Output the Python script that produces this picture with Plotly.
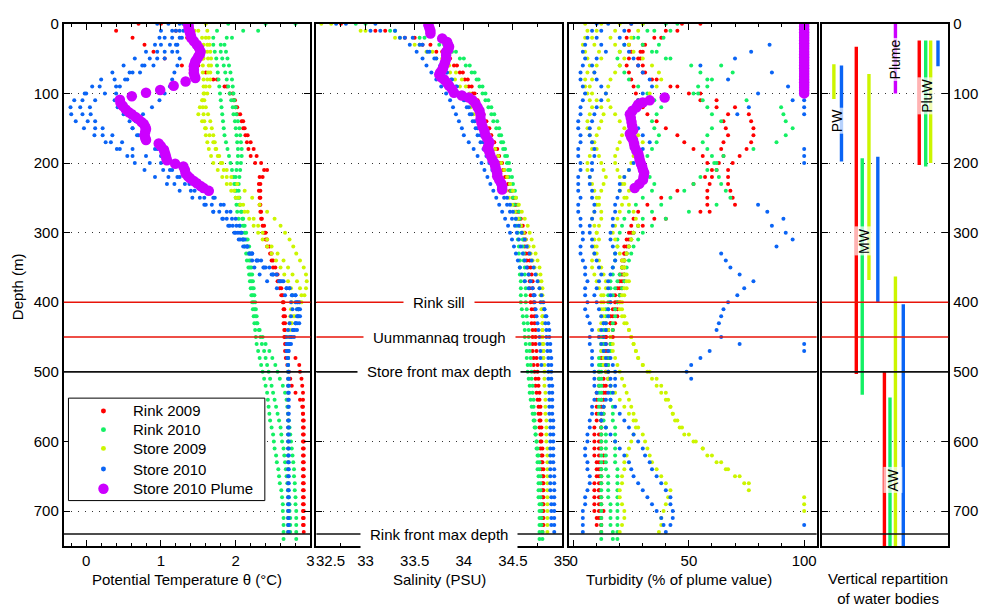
import plotly.graph_objects as go

N = None
FONT = "Liberation Sans, Arial, Helvetica, sans-serif"

# ---------------- depth levels of the CTD casts (m) ----------------
depth_m = list(range(0, 750, 10))  # 0, 10, ..., 740

# ---------------- Potential temperature (deg C) ----------------
T_R09_a = [0.70,0.40,0.62,0.78,0.90,1.05,1.28,1.40,1.70,1.88,
           1.96,1.99,2.00,2.02,2.08,2.10,2.13,2.15,2.17,2.20,
           2.26,2.38,2.32,2.33,2.33,2.33,2.33,2.34,2.34,2.36,
           2.38,2.40,2.42,2.46,2.48,2.50,2.54,2.56,2.59,2.61,
           2.64,2.65,2.66,2.66,2.66,2.66,2.67,2.70,2.80,2.85,
           2.86,2.88,2.89,2.90,2.90,2.90,2.90,2.90,2.90,2.90,
           2.90,2.90,2.90,2.90,2.90,2.90,2.90,2.90,2.90,2.90,
           2.90,2.90,2.90,N,N]
T_R09_b = [1.00,1.20,1.35,1.45,1.50,1.55,1.50,1.60,1.75,1.85,
           1.92,1.97,2.02,2.06,2.10,2.12,2.16,2.20,2.24,2.28,
           2.34,2.42,2.36,2.31,2.31,2.32,2.32,2.33,2.35,2.38,
           2.40,2.42,2.45,2.48,2.50,2.53,2.56,2.58,2.61,2.63,
           2.63,2.64,2.64,2.64,2.65,2.65,2.66,2.66,2.67,2.69,
           2.71,2.73,2.75,2.80,2.86,2.89,2.90,2.91,2.91,2.91,
           2.91,2.91,2.91,2.91,2.91,2.91,2.91,2.91,2.91,2.91,
           2.91,2.91,2.91,2.91,N]
T_R10_a = [1.90,1.75,1.70,1.70,1.72,1.74,1.75,1.76,1.77,1.78,
           1.79,1.80,1.81,1.82,1.83,1.84,1.85,1.87,1.89,1.91,
           1.93,1.95,1.97,1.98,1.99,2.00,2.01,2.02,2.04,2.06,
           2.08,2.10,2.12,2.14,2.15,2.17,2.18,2.19,2.20,2.21,
           2.22,2.23,2.24,2.25,2.26,2.27,2.28,2.30,2.32,2.34,
           2.36,2.38,2.40,2.42,2.43,2.44,2.45,2.46,2.48,2.50,
           2.51,2.52,2.54,2.55,2.57,2.58,2.59,2.61,2.62,2.63,
           2.63,2.64,2.64,2.64,2.64]
T_R10_b = [2.40,2.10,1.88,1.85,1.87,1.89,1.91,1.93,1.95,1.96,
           1.97,1.98,2.00,2.01,2.03,2.05,2.06,2.07,2.08,2.08,
           2.07,2.06,2.05,2.04,2.04,2.05,2.06,2.07,2.09,2.10,
           2.12,2.14,2.16,2.17,2.18,2.19,2.20,2.21,2.22,2.23,
           2.24,2.25,2.26,2.28,2.32,2.36,2.40,2.45,2.49,2.53,
           2.56,2.59,2.63,2.66,2.68,2.69,2.70,2.71,2.72,2.73,
           2.74,2.75,2.76,2.77,2.78,2.78,2.79,2.79,2.80,2.80,
           2.81,2.81,2.81,2.81,2.81]
T_R10_c = [2.80,2.30,1.95,1.80,1.80,1.82,1.84,1.86,1.88,1.90,
           1.92,1.94,1.96,1.97,1.99,2.00,2.01,2.02,2.03,2.03,
           2.02,2.01,2.00,2.00,2.01,2.03,2.05,2.08,2.10,2.12,
           2.14,2.16,2.18,2.19,2.20,2.21,2.22,2.23,2.24,2.25,
           2.26,2.27,2.28,2.29,2.31,2.33,2.35,2.38,2.40,2.42,
           2.44,2.46,2.48,2.50,2.52,2.54,2.56,2.58,2.60,2.61,
           2.62,2.64,2.65,2.66,2.67,2.68,2.69,2.70,2.71,2.72,
           2.72,2.73,2.73,2.73,N]
T_S09_a = [1.40,1.50,1.55,1.57,1.58,1.57,1.56,1.56,1.57,1.57,
           1.57,1.56,1.56,1.57,1.58,1.59,1.60,1.62,1.64,1.67,
           1.70,1.76,1.82,1.88,1.94,2.00,2.06,2.12,2.18,2.24,
           2.30,2.36,2.42,2.48,2.54,2.60,2.65,2.70,2.74,2.76,
           2.75,2.74,2.73,2.72,2.71,2.70,2.70,2.70,2.70,2.70,
           2.70,2.70,2.70,2.70,2.70,2.70,2.70,2.70,2.70,2.70,
           2.70,2.70,2.70,2.70,2.70,2.70,2.70,2.70,2.70,2.70,
           2.70,2.70,2.70,2.70,N]
T_S09_b = [1.60,1.62,1.64,1.62,1.62,1.63,1.64,1.63,1.62,1.60,
           1.58,1.55,1.52,1.50,1.55,1.60,1.65,1.70,1.73,1.76,
           1.80,1.84,1.88,1.93,1.98,2.04,2.10,2.16,2.24,2.30,
           2.36,2.42,2.48,2.56,2.64,2.70,2.76,2.82,2.86,2.88,
           2.86,2.82,2.77,2.74,2.72,2.71,2.70,2.70,2.70,2.70,
           N,N,N,N,N,N,N,N,N,N,
           N,N,N,N,N,N,N,N,N,N,
           N,N,N,N,N]
T_S09_c = [1.30,1.45,1.60,1.65,1.66,1.67,1.67,1.66,1.66,1.65,
           1.62,1.58,1.60,1.63,1.66,1.68,1.70,1.72,1.74,1.78,
           1.82,1.88,1.94,2.02,2.12,2.22,2.32,2.42,2.52,2.60,
           2.66,2.72,2.77,2.81,2.86,2.91,2.94,2.95,2.94,2.92,
           2.88,2.84,2.79,2.75,2.72,2.70,2.70,2.70,2.70,N,
           N,N,N,N,N,N,N,N,N,N,
           N,N,N,N,N,N,N,N,N,N,
           N,N,N,N,N]
T_S10_a = [1.25,1.20,1.15,1.12,1.05,0.95,0.78,0.58,0.38,0.18,
           -0.02,-0.16,-0.21,-0.20,-0.14,-0.03,0.11,0.26,0.41,0.62,
           0.85,1.03,1.10,1.18,1.40,1.52,1.60,1.70,1.83,1.92,
           2.00,2.06,2.12,2.22,2.34,2.45,2.55,2.64,2.72,2.80,
           2.85,2.86,2.86,2.85,2.82,2.78,2.74,2.71,2.70,2.70,
           2.70,2.70,2.70,2.70,2.70,2.70,2.70,2.70,2.70,2.70,
           2.70,2.70,2.70,2.70,2.70,2.70,2.70,2.70,2.70,2.70,
           2.70,2.70,2.70,2.70,N]
T_S10_b = [1.30,1.25,1.28,1.22,1.15,1.05,0.90,0.72,0.55,0.40,
           0.25,0.12,0.05,0.06,0.12,0.22,0.35,0.48,0.62,0.80,
           1.00,1.12,1.22,1.32,1.45,1.58,1.68,1.78,1.88,1.96,
           2.03,2.09,2.15,2.22,2.30,2.40,2.50,2.60,2.68,2.75,
           2.80,2.82,2.82,2.80,2.77,2.74,2.72,2.70,2.69,N,
           N,N,N,N,N,N,N,N,N,N,
           N,N,N,N,N,N,N,N,N,N,
           N,N,N,N,N]
T_S10_c = [1.10,1.15,1.05,1.00,0.95,0.85,0.75,0.62,0.52,0.45,
           0.40,0.38,0.42,0.50,0.58,0.62,0.70,0.80,0.92,1.00,
           1.08,1.15,1.25,1.38,1.55,1.70,1.80,1.88,1.95,2.01,
           2.06,2.10,2.15,2.19,2.22,2.25,2.32,2.42,2.55,2.66,
           2.74,2.76,2.74,2.72,2.70,2.68,2.68,2.68,N,N,
           N,N,N,N,N,N,N,N,N,N,
           N,N,N,N,N,N,N,N,N,N,
           N,N,N,N,N]
T_S10_d = [1.35,1.30,1.25,1.20,1.22,1.25,1.22,1.18,1.15,1.12,
           1.05,0.98,0.88,0.76,0.66,0.62,0.68,0.80,0.95,1.08,
           1.20,1.28,1.35,1.45,1.58,1.72,1.84,1.93,2.00,2.05,
           2.08,2.12,2.16,2.21,2.28,2.37,2.48,2.58,2.68,2.76,
           2.82,2.84,2.84,2.82,2.79,2.75,2.72,2.70,2.70,2.70,
           2.71,2.71,2.71,2.71,2.71,2.71,2.71,2.71,2.71,2.71,
           2.71,2.71,2.71,2.71,2.71,2.71,2.71,2.71,2.71,2.71,
           2.71,2.71,2.71,2.71,N]
T_S10_e = [0.95,1.00,0.98,0.92,0.80,0.65,0.50,0.35,0.20,0.08,
           0.00,-0.05,-0.08,-0.05,0.02,0.12,0.22,0.33,0.45,0.55,
           0.65,0.78,0.92,1.08,1.25,1.42,1.58,1.70,1.82,1.90,
           1.98,2.04,2.10,2.18,2.28,2.38,2.50,2.62,2.72,2.80,
           2.83,2.84,2.83,2.80,2.76,2.72,2.70,N,N,N,
           N,N,N,N,N,N,N,N,N,N,
           N,N,N,N,N,N,N,N,N,N,
           N,N,N,N,N]
plume_T_depth = [0,3,6,10,13,17,21,25,30,35,40,44,47,51,54,58,61,66,71,75,
                 78,83,89,95,99,104,109,114,118,123,127,130,134,137,141,144,148,151,155,160,
                 164,167,172,176,181,185,188,192,196,201,205,210,215,219,222,226,229,233,236,240]
plume_T = [1.36,1.37,1.37,1.38,1.39,1.40,1.41,1.44,1.48,1.51,1.53,1.52,1.50,1.48,1.46,1.45,1.44,1.44,1.44,1.45,
           1.46,1.33,1.17,0.99,0.80,0.61,0.45,0.46,0.49,0.53,0.57,0.61,0.66,0.70,0.74,0.77,0.79,0.80,0.79,0.78,
           0.79,0.80,0.97,1.00,1.04,1.05,1.06,1.07,1.08,1.19,1.30,1.32,1.33,1.36,1.39,1.44,1.48,1.53,1.57,1.64]

# ---------------- Salinity (PSU) ----------------
S_R09_a = [32.75,33.10,33.40,33.58,33.72,33.82,33.90,33.96,34.01,34.05,
           34.09,34.12,34.15,34.18,34.21,34.24,34.27,34.30,34.32,34.35,
           34.37,34.40,34.42,34.45,34.47,34.50,34.52,34.54,34.56,34.58,
           34.60,34.61,34.62,34.63,34.64,34.65,34.66,34.67,34.67,34.68,
           34.68,34.69,34.69,34.69,34.70,34.70,34.70,34.70,34.71,34.71,
           34.72,34.73,34.73,34.74,34.75,34.76,34.76,34.77,34.77,34.78,
           34.78,34.78,34.79,34.79,34.79,34.80,34.80,34.80,34.80,34.80,
           34.80,34.80,34.80,34.80,N]
S_R09_b = [N,33.20,33.50,33.66,33.78,33.86,33.93,33.99,34.04,34.08,
           34.11,34.14,34.17,34.20,34.23,34.26,34.28,34.31,34.34,34.36,
           34.39,34.41,34.44,34.46,34.49,34.51,34.53,34.56,34.58,34.60,
           34.62,34.63,34.65,34.66,34.67,34.68,34.69,34.70,34.70,34.71,
           34.71,34.72,34.72,34.72,34.73,34.73,34.73,34.74,34.74,34.75,
           34.75,34.76,34.76,34.77,34.77,34.78,34.78,34.78,34.79,34.79,
           34.79,34.80,34.80,34.80,34.81,34.81,34.81,34.81,34.81,34.81,
           34.81,34.81,34.81,N,N]
S_R10_a = [32.90,33.25,33.55,33.75,33.88,33.96,34.02,34.08,34.13,34.16,
           34.19,34.22,34.25,34.28,34.30,34.33,34.36,34.38,34.40,34.42,
           34.44,34.45,34.46,34.47,34.48,34.50,34.51,34.52,34.53,34.54,
           34.55,34.55,34.56,34.56,34.57,34.57,34.57,34.58,34.58,34.58,
           34.58,34.59,34.60,34.61,34.62,34.62,34.63,34.64,34.64,34.65,
           34.65,34.66,34.67,34.67,34.68,34.69,34.70,34.71,34.72,34.73,
           34.74,34.75,34.76,34.77,34.77,34.78,34.78,34.78,34.78,34.79,
           34.79,34.79,34.79,34.80,34.80]
S_R10_b = [33.00,33.30,33.60,33.80,33.92,34.00,34.06,34.11,34.15,34.19,
           34.22,34.25,34.28,34.31,34.34,34.36,34.38,34.40,34.42,34.44,
           34.46,34.47,34.49,34.50,34.52,34.53,34.55,34.56,34.57,34.58,
           34.59,34.60,34.60,34.61,34.61,34.62,34.62,34.62,34.63,34.63,
           34.63,34.64,34.64,34.65,34.66,34.66,34.67,34.67,34.68,34.68,
           34.69,34.69,34.70,34.70,34.71,34.71,34.72,34.72,34.73,34.73,
           34.74,34.74,34.75,34.75,34.75,34.76,34.76,34.76,34.76,34.77,
           34.77,34.77,34.77,34.77,34.77]
S_S09_a = [32.65,33.00,33.30,33.50,33.62,33.72,33.80,33.86,33.91,33.96,
           34.00,34.04,34.07,34.10,34.13,34.16,34.19,34.22,34.25,34.28,
           34.31,34.34,34.37,34.40,34.43,34.46,34.49,34.52,34.55,34.58,
           34.61,34.63,34.66,34.68,34.70,34.72,34.74,34.76,34.77,34.78,
           34.79,34.79,34.80,34.80,34.80,34.80,34.81,34.81,34.81,34.82,
           34.82,34.82,34.82,34.83,34.83,34.83,34.83,34.84,34.84,34.84,
           34.84,34.85,34.85,34.85,34.85,34.85,34.85,34.85,34.85,34.85,
           34.85,34.85,34.85,34.85,N]
S_S09_b = [32.55,32.95,33.35,33.55,33.68,33.78,33.85,33.92,33.98,34.02,
           34.06,34.10,34.14,34.17,34.20,34.23,34.26,34.29,34.32,34.35,
           34.38,34.41,34.44,34.47,34.50,34.53,34.56,34.59,34.62,34.65,
           34.67,34.69,34.71,34.73,34.75,34.77,34.78,34.79,34.80,34.80,
           34.80,34.80,34.80,34.80,34.80,34.80,34.80,34.81,34.81,N,
           N,N,N,N,N,N,N,N,N,N,
           N,N,N,N,N,N,N,N,N,N,
           N,N,N,N,N]
S_S10_a = [32.80,33.15,33.35,33.45,33.52,33.58,33.62,33.67,33.72,33.77,
           33.82,33.86,33.89,33.92,33.95,33.98,34.00,34.05,34.10,34.14,
           34.18,34.21,34.24,34.27,34.30,34.33,34.36,34.39,34.42,34.45,
           34.47,34.49,34.51,34.53,34.55,34.57,34.59,34.62,34.66,34.72,
           34.78,34.82,34.84,34.86,34.87,34.87,34.88,34.88,34.89,34.89,
           34.89,34.89,34.90,34.90,34.90,34.90,34.90,34.91,34.91,34.91,
           34.91,34.91,34.91,34.91,34.92,34.92,34.92,34.92,34.92,34.92,
           34.92,34.92,34.92,34.92,N]
S_S10_b = [33.10,33.30,33.48,33.58,33.65,33.72,33.78,33.83,33.88,33.93,
           33.97,34.01,34.05,34.08,34.11,34.14,34.17,34.20,34.23,34.26,
           34.29,34.32,34.35,34.38,34.41,34.44,34.47,34.50,34.53,34.56,
           34.59,34.62,34.64,34.67,34.69,34.71,34.73,34.75,34.77,34.79,
           34.81,34.82,34.83,34.83,34.84,34.84,34.85,34.85,34.86,34.86,
           34.86,34.86,34.87,34.87,34.87,34.87,34.87,34.88,34.88,34.88,
           34.88,34.88,34.88,34.88,34.88,34.88,34.88,34.88,34.89,34.89,
           34.89,34.89,34.89,N,N]
S_S10_c = [32.70,33.05,33.40,33.55,33.63,33.70,33.76,33.82,33.87,33.92,
           33.96,34.00,34.03,34.06,34.09,34.12,34.14,34.17,34.20,34.23,
           34.26,34.29,34.32,34.35,34.38,34.41,34.44,34.47,34.49,34.52,
           34.54,34.56,34.58,34.60,34.62,34.64,34.66,34.68,34.70,34.71,
           34.72,34.73,34.74,34.75,34.76,34.77,34.77,34.78,34.78,34.79,
           N,N,N,N,N,N,N,N,N,N,
           N,N,N,N,N,N,N,N,N,N,
           N,N,N,N,N]
plume_S_depth = [2,6,10,14,21,26,30,33,37,40,45,50,55,59,63,66,70,73,77,80,
                 85,89,94,99,103,106,110,115,120,125,131,137,142,148,154,160,165,170,175,179,
                 184,189,195,200,205,210,215,219,224,229,234,238]
plume_S = [33.64,33.65,33.66,33.66,33.78,33.83,33.84,33.85,33.84,33.82,33.82,33.82,33.81,33.80,33.79,33.78,33.76,33.75,33.77,33.80,
           33.83,33.85,33.88,33.90,33.98,34.05,34.09,34.12,34.14,34.16,34.17,34.17,34.18,34.19,34.21,34.22,34.24,34.26,34.25,34.24,
           34.26,34.27,34.29,34.31,34.32,34.33,34.34,34.34,34.36,34.38,34.39,34.39]

# ---------------- Turbidity (% of plume value) ----------------
U_R09_a = [47,40,35,30,29,28,28,30,34,42,
           50,55,62,67,65,66,67,65,64,65,
           63,62,60,59,58,58,58,59,40,30,
           26,25,24,23,22,22,21,21,20,20,
           19,18,17,16,15,14,14,14,15,15,
           15,15,14,14,13,13,13,12,12,12,
           12,12,13,13,12,12,12,11,11,11,
           11,11,12,12,N]
U_R09_b = [55,45,38,31,30,29,30,31,36,45,
           55,62,70,76,77,78,78,77,75,72,
           69,67,67,67,68,69,70,55,35,28,
           25,24,23,22,22,21,20,20,19,18,
           18,17,16,16,15,14,13,13,12,12,
           11,11,11,10,10,10,10,10,9,9,
           9,9,9,10,10,10,9,9,9,9,
           9,10,10,N,N]
U_R09_c = [25,24,23,24,25,24,23,24,25,26,
           27,28,30,32,36,40,45,48,52,56,
           58,60,57,52,45,38,32,28,26,25,
           24,23,22,22,21,21,22,22,21,20,
           20,19,19,18,17,17,16,15,15,14,
           14,13,13,13,12,12,12,12,12,11,
           11,11,11,11,11,11,11,11,12,12,
           13,12,12,N,N]
U_R10_a = [30,35,39,37,34,40,51,55,60,58,
           54,75,90,91,92,95,92,88,78,65,
           61,62,63,64,66,68,62,50,40,34,
           30,28,26,25,24,23,22,22,21,20,
           19,18,18,17,17,16,16,16,15,15,
           15,15,16,16,16,17,17,17,18,18,
           18,18,18,18,19,19,19,19,19,19,
           19,19,19,19,19]
U_R10_b = [40,32,28,30,36,42,64,69,58,54,
           52,56,58,60,64,60,58,56,58,60,
           62,58,55,52,48,42,38,34,30,28,
           26,25,24,23,22,21,20,19,18,17,
           16,15,15,14,14,13,13,13,13,12,
           12,12,12,12,12,13,13,13,14,14,
           14,14,14,14,14,15,15,15,15,16,
           16,16,16,17,17]
U_R10_c = [45,42,26,22,20,19,20,22,24,28,
           32,35,38,36,34,35,37,36,34,32,
           30,31,33,35,34,30,27,24,22,21,
           20,19,19,18,18,17,17,16,16,15,
           15,14,14,13,13,12,12,12,11,11,
           11,11,11,11,11,11,11,12,12,12,
           12,12,12,12,12,12,12,12,12,12,
           12,12,12,12,12]
U_S09_a = [12,10,8,9,11,12,10,9,8,7,
           8,10,12,13,12,11,10,9,10,11,
           12,13,14,13,12,11,10,9,8,9,
           10,11,10,9,8,8,9,10,11,12,
           13,13,12,12,11,11,12,12,13,13,
           14,15,16,18,20,22,24,26,28,30,
           31,32,33,34,36,38,40,42,41,40,
           39,38,38,37,N]
U_S09_b = [20,18,16,18,20,22,20,18,16,15,
           14,15,16,18,20,22,21,20,19,18,
           18,19,20,22,24,23,21,20,19,18,
           17,18,19,20,21,22,23,24,23,22,
           21,20,21,22,24,25,26,27,28,30,
           32,34,36,38,40,42,43,44,46,48,
           52,56,60,64,66,70,74,76,100,100,
           100,N,N,N,N]
U_S09_c = [30,28,25,24,26,30,34,37,38,36,
           33,30,28,26,25,26,28,30,28,26,
           25,24,22,21,20,22,24,26,27,28,
           26,25,24,23,22,21,22,23,22,21,
           20,21,22,23,24,25,26,27,28,30,
           33,36,38,40,41,42,43,45,47,50,
           53,56,58,62,67,72,76,N,N,N,
           N,N,N,N,N]
U_S09_d = [5,6,5,4,5,6,7,6,5,5,
           6,7,8,7,6,6,7,8,8,7,
           6,6,7,8,9,10,11,12,12,11,
           10,9,9,10,11,12,13,14,14,13,
           12,12,13,14,15,16,17,17,18,19,
           20,21,22,23,24,25,26,27,27,26,
           25,24,23,22,22,21,21,20,20,21,
           22,22,21,20,N]
U_S10_a = [10,8,6,5,4,5,4,3,3,4,
           5,4,3,3,2,2,3,3,2,2,
           3,3,2,2,2,3,2,2,3,3,
           4,4,3,3,4,5,5,6,5,5,
           6,5,6,7,8,7,7,8,8,8,
           9,9,9,10,9,8,8,7,7,6,
           6,5,5,6,6,7,7,6,5,5,
           4,4,4,4,N]
U_S10_b = [15,12,10,12,14,10,8,9,10,12,
           14,12,10,9,8,7,7,8,9,9,
           8,8,7,7,8,8,9,9,8,7,
           7,8,8,9,10,11,12,11,10,9,
           10,11,12,13,12,11,12,13,14,14,
           15,16,16,15,14,13,12,12,14,16,
           18,20,22,24,25,26,28,30,32,34,
           36,38,39,40,N]
U_S10_e = [25,22,20,22,24,26,28,30,33,34,
           30,28,26,25,26,28,30,33,30,28,
           26,24,22,20,20,19,18,18,17,17,
           16,16,17,18,18,17,16,15,15,16,
           16,15,15,14,14,13,14,15,16,17,
           18,18,18,17,16,18,20,22,24,26,
           28,30,31,33,34,36,38,40,42,42,
           43,43,42,N,N]
U_S10_hi_depth = [260,270,280,290,300,310,320,330,340,350,360,370,380,390,
                  400,410,420,430,440,450,460,470,480,490,500,510]
U_S10_hi = [80,84,91,86,92,95,88,64,66,68,72,78,74,71,
            67,65,64,63,62,64,72,59,55,51,49,51]
U_S10_up_depth = [30,40,50,60,70,80,90,100,110,120,130]
U_S10_up = [85,77,70,55,86,67,93,80,95,76,71]
U_S10_sat_depth = [110,120,130,180,190,200,460,470,720]
U_S10_sat = [100,100,100,100,100,100,100,100,100]
plume_U_depth = [0,4,8,12,16,20,24,28,32,36,40,44,48,52,56,60,64,68,72,76,80,84,88,92,96,100,
                 106,110,113,116,120,125,130,135,141,147,153,158,163,167,172,177,182,186,191,196,
                 201,205,210,214,219,224,230,236]
plume_U = [100,100,100,100,100,100,100,100,100,100,100,100,100,100,100,100,100,100,100,100,100,100,100,100,100,100,
           39.5,33.0,30.0,28.0,27.3,25.5,24.4,24.8,25.1,25.4,25.8,24.4,25.0,25.8,26.2,26.5,27.2,28.0,28.4,28.7,
           29.2,29.7,30.1,30.6,30.4,30.1,28.5,26.5]

# ---------------- Water bodies (depth ranges, m) ----------------
wb_series = ["Store 2009", "Store 2010",
             "Rink 2009", "Rink 2010", "Store 2009", "Store 2010",
             "Store 2010 Plume",
             "Rink 2009", "Rink 2010", "Store 2009", "Store 2010",
             "Rink 2009", "Rink 2010", "Store 2009", "Store 2010"]
wb_top = [58, 60, 33, 193, 72, 191, 0, 500, 537, 363, 403, 24, 24, 24, 24]
wb_bottom = [108, 198, 503, 533, 368, 400, 100, 750, 750, 750, 750, 203, 205, 200, 61]
wb_labels = ["PW", "MW", "Plume", "AW", "PluW"]
wb_label_depth = [139, 312, 51, 655, 103]

ref_depths = [400, 450, 500, 733]
ref_names = ["Rink sill", "Uummannaq trough", "Store front max depth", "Rink front max depth"]

series = ["Rink 2009", "Rink 2010", "Store 2009", "Store 2010"]
legend_names = ["Rink 2009", "Rink 2010", "Store 2009", "Store 2010", "Store 2010 Plume"]

# ---------------- styling ----------------
colors = {"Rink 2009": "#ff0000", "Rink 2010": "#14f064", "Store 2009": "#ccf500",
          "Store 2010": "#0a64f5", "Store 2010 Plume": "#cc00ff"}
ref_colors = ["#e8140a", "#e8140a", "#111111", "#111111"]
wb_slot = [0.097, 0.157, 0.274, 0.321, 0.374, 0.444, 0.583, 0.496, 0.540, 0.583, 0.645,
           0.771, 0.822, 0.861, 0.919]
wb_label_x = [0.119, 0.334, 0.581, 0.561, 0.835]
legend_rows_px = [408, 427, 446, 467, 487]
legend_dot_px = [5, 5, 5, 5, 10.5]
TXT = 15

G = depth_m
temp_casts = {"Rink 2009": [(G, T_R09_a), (G, T_R09_b)],
              "Rink 2010": [(G, T_R10_a), (G, T_R10_b), (G, T_R10_c)],
              "Store 2009": [(G, T_S09_a), (G, T_S09_b), (G, T_S09_c)],
              "Store 2010": [(G, T_S10_a), (G, T_S10_b), (G, T_S10_c), (G, T_S10_d), (G, T_S10_e)],
              "Store 2010 Plume": [(plume_T_depth, plume_T)]}
sal_casts = {"Rink 2009": [(G, S_R09_a), (G, S_R09_b)],
             "Rink 2010": [(G, S_R10_a), (G, S_R10_b)],
             "Store 2009": [(G, S_S09_a), (G, S_S09_b)],
             "Store 2010": [(G, S_S10_a), (G, S_S10_b), (G, S_S10_c)],
             "Store 2010 Plume": [(plume_S_depth, plume_S)]}
turb_casts = {"Rink 2009": [(G, U_R09_a), (G, U_R09_b), (G, U_R09_c)],
              "Rink 2010": [(G, U_R10_a), (G, U_R10_b), (G, U_R10_c)],
              "Store 2009": [(G, U_S09_a), (G, U_S09_b), (G, U_S09_c), (G, U_S09_d)],
              "Store 2010": [(G, U_S10_a), (G, U_S10_b), (G, U_S10_e),
                             (U_S10_hi_depth, U_S10_hi), (U_S10_up_depth, U_S10_up),
                             (U_S10_sat_depth, U_S10_sat)],
              "Store 2010 Plume": [(plume_U_depth, plume_U)]}


def collect(casts):
    xs, ys = [], []
    for depths, vals in casts:
        assert len(depths) == len(vals), (len(depths), len(vals))
        for d, v in zip(depths, vals):
            if v is not None:
                xs.append(v)
                ys.append(d)
    return xs, ys


fig = go.Figure()
panels = [("x", "y", temp_casts), ("x2", "y2", sal_casts), ("x3", "y3", turb_casts)]
for xa, ya, data in panels:
    for name in legend_names:
        xs, ys = collect(data[name])
        plume = name == "Store 2010 Plume"
        fig.add_trace(go.Scatter(x=xs, y=ys, xaxis=xa, yaxis=ya, mode="markers", name=name,
                                 marker=dict(color=colors[name], size=10.5 if plume else 4,
                                             line=dict(width=0)),
                                 showlegend=False, hoverinfo="skip"))

for s, top, bot, xpos in zip(wb_series, wb_top, wb_bottom, wb_slot):
    fig.add_trace(go.Scatter(x=[xpos, xpos], y=[top, bot], xaxis="x4", yaxis="y4",
                             mode="lines", line=dict(color=colors[s], width=3.4),
                             showlegend=False, hoverinfo="skip"))

W, H = 987, 606
def px(x):
    return x / W
def py(y):
    return 1 - y / H

ydom = [py(545), py(15)]
xdoms = [[px(64.3), px(313)], [px(319), px(566.7)], [px(574), px(823.3)], [px(828.3), px(956)]]
xranges = [[-0.3, 3.0], [32.5, 35.0], [-1.85, 105.4], [0, 1]]

axis_base = dict(showline=True, linecolor="black", linewidth=2, mirror="ticks",
                 ticks="inside", ticklen=6, tickwidth=1.3, tickcolor="black",
                 zeroline=False, tickfont=dict(size=TXT, color="black", family=FONT))
layout = dict(width=W, height=H, margin=dict(l=0, r=0, t=0, b=0),
              paper_bgcolor="white", plot_bgcolor="white",
              font=dict(family=FONT, size=TXT, color="black"),
              showlegend=False)

xtick_cfg = [dict(tickvals=[0, 1, 2, 3], minor=dict(ticks="inside", dtick=0.2, ticklen=3, tickcolor="black")),
             dict(tickvals=[33, 33.5, 34, 34.5, 35], minor=dict(ticks="inside", dtick=0.25, tick0=32.5, ticklen=3, tickcolor="black")),
             dict(tickvals=[0, 50, 100], minor=dict(ticks="inside", dtick=10, ticklen=3, tickcolor="black")),
             dict(tickvals=[], ticks="", showticklabels=False)]
for i in range(4):
    key = "xaxis" if i == 0 else f"xaxis{i+1}"
    yname = "y" if i == 0 else f"y{i+1}"
    ax = dict(axis_base)
    ax.update(domain=xdoms[i], range=xranges[i], anchor=yname, showgrid=False)
    ax.update(xtick_cfg[i])
    layout[key] = ax

for i in range(4):
    key = "yaxis" if i == 0 else f"yaxis{i+1}"
    xname = "x" if i == 0 else f"x{i+1}"
    ay = dict(axis_base)
    ay.update(domain=ydom, range=[750, 0], anchor=xname, tickvals=[0, 100, 200, 300, 400, 500, 600, 700],
              showgrid=True, gridcolor="#333333", gridwidth=1, griddash="1px,6px",
              showticklabels=(i == 0 or i == 3))
    if i == 3:
        ay.update(side="right")
    layout[key] = ay

fig.update_layout(**layout)

# reference depth lines (per panel)
shapes = []
for i in range(4):
    xr = "x domain" if i == 0 else f"x{i+1} domain"
    yr = "y" if i == 0 else f"y{i+1}"
    for d, c in zip(ref_depths, ref_colors):
        shapes.append(dict(type="line", xref=xr, yref=yr, x0=0, x1=1, y0=d, y1=d,
                           line=dict(color=c, width=1.6), layer="above"))
# legend frame and legend symbols
shapes.append(dict(type="rect", xref="paper", yref="paper", x0=px(69), x1=px(267),
                   y0=py(499), y1=py(395), line=dict(color="black", width=1),
                   fillcolor="white", layer="above"))
for name, ry, dsz in zip(legend_names, legend_rows_px, legend_dot_px):
    shapes.append(dict(type="circle", xref="paper", yref="paper",
                       x0=px(104.3 - dsz / 2), x1=px(104.3 + dsz / 2),
                       y0=py(ry + dsz / 2), y1=py(ry - dsz / 2),
                       fillcolor=colors[name], line=dict(width=0), layer="above"))
fig.update_layout(shapes=shapes)

ann = []
for name, ry in zip(legend_names, legend_rows_px):
    ann.append(dict(xref="paper", yref="paper", x=px(132), y=py(ry), text=name, showarrow=False,
                    xanchor="left", yanchor="middle", font=dict(size=TXT)))
for d, t in zip(ref_depths, ref_names):
    ann.append(dict(xref="x2 domain", yref="y2", x=0.5, y=d, text=t, showarrow=False,
                    bgcolor="white", borderpad=9, font=dict(size=TXT, color="black"),
                    xanchor="center", yanchor="middle"))
for t, xl, d in zip(wb_labels, wb_label_x, wb_label_depth):
    ann.append(dict(xref="x4", yref="y4", x=xl, y=d, text=t, showarrow=False, textangle=-90,
                    bgcolor="rgba(255,255,255,0.7)", borderpad=1, font=dict(size=14, color="black")))
titles = [("Potential Temperature θ (°C)", 189), ("Salinity (PSU)", 443),
          ("Turbidity (% of plume value)", 685)]
for t, xc in titles:
    ann.append(dict(xref="paper", yref="paper", x=px(xc), y=py(579), text=t, showarrow=False,
                    xanchor="center", yanchor="middle", font=dict(size=TXT)))
ann.append(dict(xref="paper", yref="paper", x=px(895), y=py(588),
                text="Vertical repartition<br>of water bodies", showarrow=False,
                xanchor="center", yanchor="middle", font=dict(size=TXT)))
ann.append(dict(xref="paper", yref="paper", x=px(17.5), y=py(282), text="Depth (m)",
                textangle=-90, showarrow=False, xanchor="center", yanchor="middle",
                font=dict(size=TXT)))
ann.append(dict(xref="paper", yref="paper", x=px(333), y=py(560), text="32.5", showarrow=False,
                xanchor="center", yanchor="middle", font=dict(size=TXT)))
fig.update_layout(annotations=ann)

fig.write_html("out.html")
